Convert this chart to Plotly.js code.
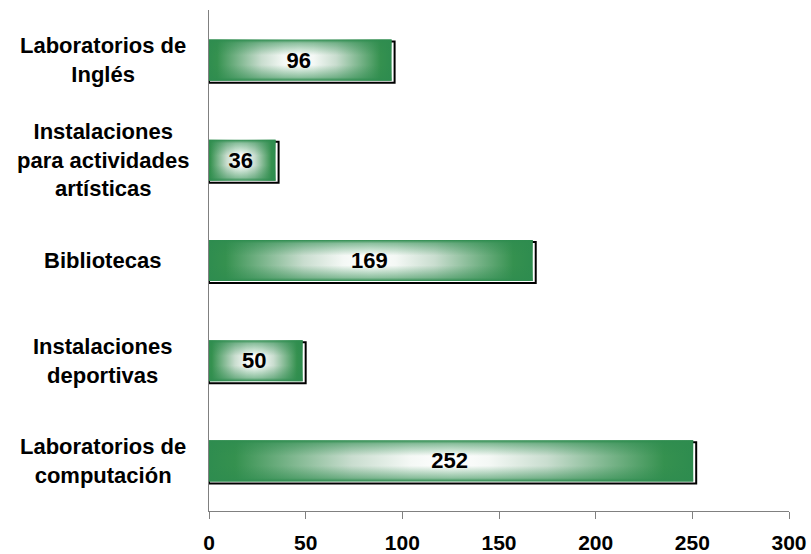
<!DOCTYPE html>
<html>
<head>
<meta charset="utf-8">
<script src="https://cdn.plot.ly/plotly-3.0.1.min.js"></script>
<style>
html,body{margin:0;padding:0;background:#fff;}
#chart{width:811px;height:554px;}
</style>
</head>
<body>
<div id="chart"></div>
<script>
// Data (bottom to top)
const categories = [
  "Laboratorios de<br>computación",
  "Instalaciones<br>deportivas",
  "Bibliotecas",
  "Instalaciones<br>para actividades<br>artísticas",
  "Laboratorios de<br>Inglés"
];
const values = [252, 50, 169, 36, 96];
const xTicks = [0, 50, 100, 150, 200, 250, 300];

const FONT = "Liberation Sans, Arial, sans-serif";
const GREEN = "#2e8c4f";

const frameTrace = {
  type: "bar", orientation: "h",
  x: values, y: categories,
  width: 0.41,
  marker: {color: "#ffffff", line: {color: "#000000", width: 2}},
  hoverinfo: "skip", showlegend: false
};
const barTrace = {
  type: "bar", orientation: "h",
  x: values, y: categories,
  width: 0.41,
  marker: {color: GREEN, line: {width: 0}},
  text: values.map(String),
  textposition: "inside",
  insidetextanchor: "middle",
  constraintext: "none",
  textfont: {family: FONT, size: 22, color: "#000000", weight: "bold"},
  hoverinfo: "skip", showlegend: false
};

const annotations = categories.map(c => ({
  xref: "paper", yref: "y",
  x: -0.1828, y: c,
  xanchor: "center", yanchor: "middle",
  align: "center",
  text: c,
  showarrow: false,
  font: {family: FONT, size: 22, color: "#000000", weight: "bold"}
}));

const layout = {
  width: 811, height: 554,
  margin: {l: 209, r: 22, t: 10, b: 43},
  paper_bgcolor: "#ffffff", plot_bgcolor: "#ffffff",
  barmode: "overlay",
  showlegend: false,
  font: {family: FONT},
  xaxis: {
    range: [0, 300],
    tickvals: xTicks,
    ticktext: xTicks.map(String),
    showgrid: false, zeroline: false,
    showline: true, linecolor: "#808080", linewidth: 1,
    ticks: "outside", ticklen: 7, tickcolor: "#808080", tickwidth: 1,
    ticklabelstandoff: 6,
    tickfont: {family: FONT, size: 21, color: "#000000", weight: "bold"},
    fixedrange: true
  },
  yaxis: {
    type: "category",
    categoryorder: "array", categoryarray: categories,
    range: [-0.5, 4.5],
    showticklabels: false,
    showgrid: false, zeroline: false,
    showline: true, linecolor: "#808080", linewidth: 1,
    ticks: "",
    fixedrange: true
  },
  annotations: annotations
};

Plotly.newPlot("chart", [frameTrace, barTrace], layout, {displayModeBar: false, staticPlot: true}).then(() => {
  const NS = "http://www.w3.org/2000/svg";
  const svg = document.querySelector("#chart svg.main-svg");
  let defs = svg.querySelector("defs");
  if (!defs) { defs = document.createElementNS(NS, "defs"); svg.insertBefore(defs, svg.firstChild); }
  function grad(id, x2, y2, stops) {
    const g = document.createElementNS(NS, "linearGradient");
    g.setAttribute("id", id);
    g.setAttribute("x1", "0"); g.setAttribute("y1", "0");
    g.setAttribute("x2", x2); g.setAttribute("y2", y2);
    stops.forEach(s => {
      const st = document.createElementNS(NS, "stop");
      st.setAttribute("offset", s[0]);
      st.setAttribute("stop-color", s[1]);
      st.setAttribute("stop-opacity", s[2] === undefined ? 1 : s[2]);
      g.appendChild(st);
    });
    defs.appendChild(g);
  }
  grad("hgrad", "1", "0", [
    [0, GREEN], [0.06, "#35914f"], [0.3, "#c9ddcf"], [0.42, "#f4f8f5"], [0.5, "#ffffff"],
    [0.58, "#f4f8f5"], [0.7, "#c9ddcf"], [0.94, "#35914f"], [1, GREEN]
  ]);
  grad("vgrad", "0", "1", [
    [0, GREEN, 1], [0.08, GREEN, 0.55], [0.38, GREEN, 0], [0.62, GREEN, 0], [0.92, GREEN, 0.55], [1, GREEN, 1]
  ]);
  const traces = document.querySelectorAll("#chart .barlayer .trace.bars");
  if (traces.length >= 2) {
    traces[0].setAttribute("transform", "translate(0,2)");
    traces[1].setAttribute("transform", "translate(-3,0)");
    traces[1].querySelectorAll(".point path").forEach(p => {
      p.style.fill = "url(#hgrad)";
      const c = p.cloneNode(true);
      c.style.fill = "url(#vgrad)";
      p.parentNode.insertBefore(c, p.nextSibling);
    });
  }
});
</script>
</body>
</html>
